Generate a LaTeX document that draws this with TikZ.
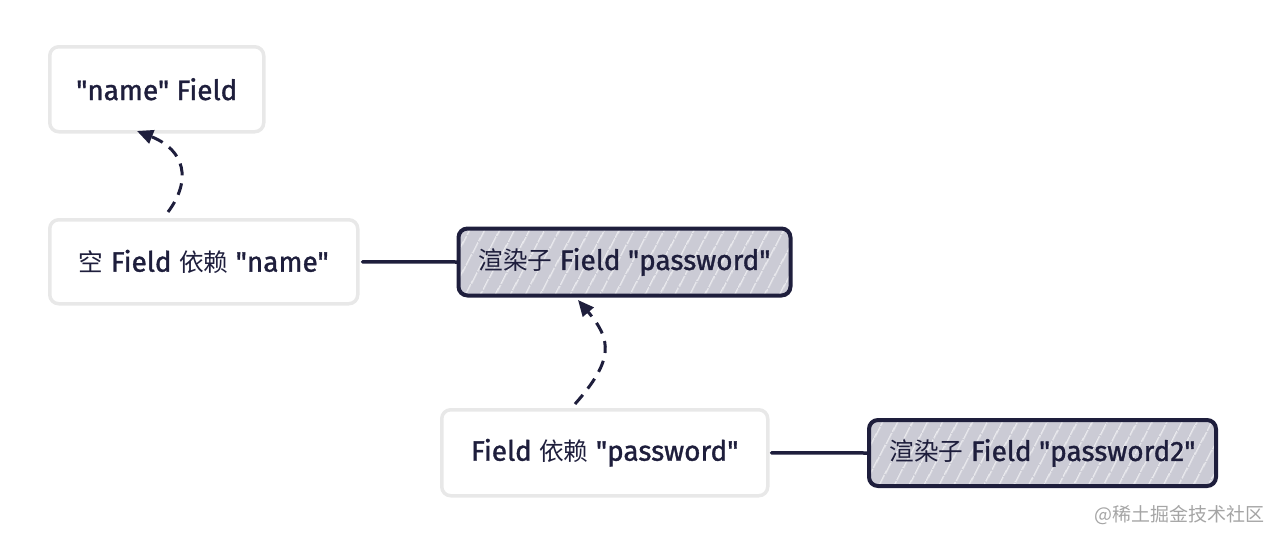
\documentclass[tikz,border=0pt]{standalone}
\usepackage{fontspec}
\newfontfamily\latin{Fira Sans}[FakeBold=1.2]
\newfontfamily\cjk{Noto Sans CJK SC}[Scale=0.88]
\newfontfamily\wmfont{Noto Sans CJK SC}
\usetikzlibrary{arrows.meta,patterns.meta}
\definecolor{ink}{HTML}{1E1E3C}
\definecolor{lightborder}{HTML}{E8E8E8}
\definecolor{hatchbg}{HTML}{CBCBD5}
\definecolor{wm}{HTML}{A5A5A5}
\tikzset{
  plainbox/.style={draw=lightborder, line width=3.5pt, fill=white, rounded corners=9pt, anchor=north west, inner sep=0pt, text=ink, font=\latin\fontsize{28}{32}\selectfont},
  darkbox/.style={draw=ink, line width=4pt, rounded corners=9pt, anchor=north west, inner sep=0pt, text=ink, font=\latin\fontsize{28}{32}\selectfont,
    preaction={fill=hatchbg}, pattern={Lines[angle=62,distance=13pt,line width=1pt]}, pattern color=white},
  dasharrow/.style={draw=ink, line width=3pt, dash pattern=on 12pt off 8pt, -{Triangle[length=16pt,width=14pt]}},
  link/.style={draw=ink, line width=3.5pt, line cap=round}
}
\begin{document}
\begin{tikzpicture}[x=1pt,y=-1pt]
\useasboundingbox (0,0) rectangle (1286,542);
\node[plainbox, minimum width=214pt, minimum height=85pt] (n1) at (48,45) {"name" Field};
\node[plainbox, minimum width=308pt, minimum height=84pt] (n2) at (48,218) {{\cjk 空} Field {\cjk 依赖} "name"};
\node[darkbox, minimum width=332pt, minimum height=67pt] (n3) at (458,228) {{\cjk 渲染子} Field "password"};
\node[plainbox, minimum width=326pt, minimum height=86pt] (n4) at (440,408) {Field {\cjk 依赖} "password"};
\node[darkbox, minimum width=347pt, minimum height=66pt] (n5) at (867,418) {{\cjk 渲染子} Field "password2"};
\coordinate (a1s) at (168,212);
\coordinate (a1e) at (137,131);
\draw[dasharrow] (a1s) .. controls (192,180) and (185,150) .. (a1e);
\coordinate (a2s) at (575,404);
\coordinate (a2e) at (578,300);
\draw[dasharrow] (a2s) .. controls (614,360) and (612,340) .. (a2e);
\draw[link] (n2.east) ++(3pt,0) -- (n3.west);
\draw[link] (n4.east) ++(2pt,0) -- (n5.west);
\node[text=wm, font=\wmfont\fontsize{19}{22}\selectfont, anchor=east] (wmk) at (1268,515) {@稀土掘金技术社区};
\end{tikzpicture}
\end{document}
